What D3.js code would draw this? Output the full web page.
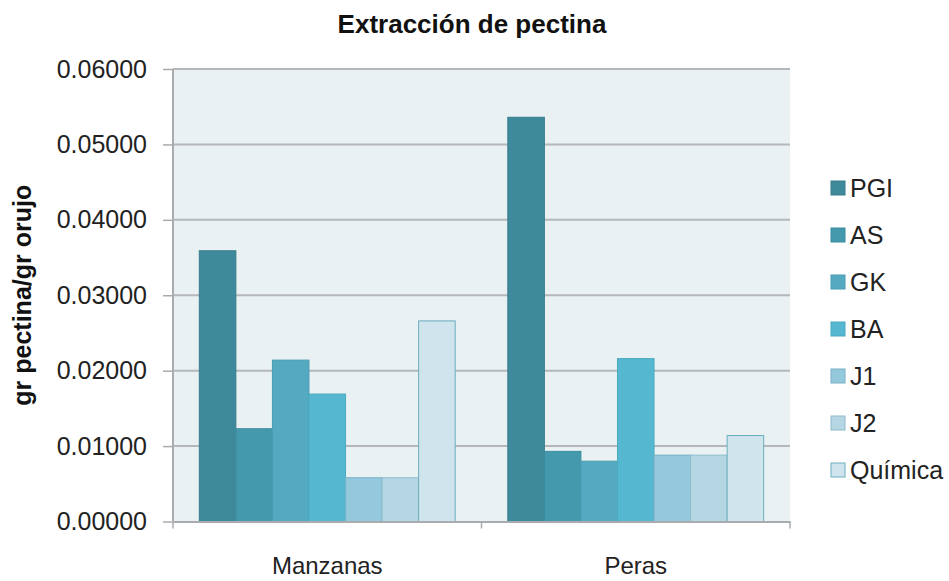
<!DOCTYPE html>
<html>
<script src="https://d3js.org/d3.v7.min.js"></script>

<head>
    <style>
        body {
            margin: 0;
            background-color: #ffffff;
            font-family: "Liberation Sans", Arial, Helvetica, sans-serif;
        }

        svg {
            display: block;
        }
    </style>
</head>

<body>
</body>
<script>
    const width = 949,
        height = 581;

    // data
    const categories = ["Manzanas", "Peras"];
    const series = ["PGI", "AS", "GK", "BA", "J1", "J2", "Química"];
    const manzanas = [0.0359, 0.0123, 0.0214, 0.0169, 0.0058, 0.0058, 0.0266];
    const peras = [0.0536, 0.0093, 0.0080, 0.0216, 0.0088, 0.0088, 0.0114];
    const yTicks = [0, 0.01, 0.02, 0.03, 0.04, 0.05, 0.06];

    const fills = ["#3e8a9b", "#4499ad", "#55aac2", "#56b8d0", "#94c8dc", "#b7d6e3", "#cfe4ec"];
    const strokes = ["#367d8d", "#3b8c9e", "#4a9cb2", "#4aa9c0", "#78b2c6", "#8fbccd", "#6aaebf"];

    const margin = { top: 69, right: 159, bottom: 59, left: 173 };
    const svg = d3.select("body").append("svg").attr("width", width).attr("height", height);

    const rows = categories.map((c, i) => ({
        category: c,
        values: series.map((s, j) => ({ key: s, value: [manzanas, peras][i][j], idx: j }))
    }));

    const x0 = d3.scaleBand()
        .domain(categories)
        .range([margin.left, width - margin.right])
        .padding(0);
    const x1 = d3.scaleBand()
        .domain(series)
        .range([0, x0.bandwidth()])
        .paddingInner(0)
        .paddingOuter(0.72);
    const y = d3.scaleLinear()
        .domain([0, 0.06])
        .range([height - margin.bottom - 0.5, margin.top]);

    // plot background
    svg.append("rect")
        .attr("x", margin.left)
        .attr("y", margin.top)
        .attr("width", width - margin.left - margin.right)
        .attr("height", y(0) - margin.top)
        .attr("fill", "#e9f1f2");

    // gridlines + y axis
    const yAxis = svg.append("g")
        .attr("transform", `translate(${margin.left},0)`)
        .call(d3.axisLeft(y)
            .tickValues(yTicks)
            .tickFormat(d3.format(".5f"))
            .tickSize(10)
            .tickPadding(16));
    yAxis.select(".domain").remove();
    yAxis.selectAll(".tick line").attr("stroke", "#a9abae").attr("stroke-width", 1.5);
    yAxis.selectAll(".tick text")
        .attr("font-family", "Liberation Sans, Arial, sans-serif")
        .attr("font-size", 25)
        .attr("fill", "#222");

    svg.append("g")
        .selectAll("line")
        .data(yTicks.filter(d => d > 0))
        .join("line")
        .attr("x1", margin.left)
        .attr("x2", width - margin.right)
        .attr("y1", d => y(d))
        .attr("y2", d => y(d))
        .attr("stroke", "#b5b7bb")
        .attr("stroke-width", 2);

    // bars
    const groups = svg.append("g")
        .selectAll("g")
        .data(rows)
        .join("g")
        .attr("transform", d => `translate(${x0(d.category)},0)`);
    groups.selectAll("rect")
        .data(d => d.values)
        .join("rect")
        .attr("x", d => x1(d.key))
        .attr("y", d => y(d.value))
        .attr("width", x1.bandwidth())
        .attr("height", d => y(0) - y(d.value))
        .attr("fill", d => fills[d.idx])
        .attr("stroke", d => strokes[d.idx])
        .attr("stroke-width", 1);

    // left axis line
    svg.append("line")
        .attr("x1", margin.left)
        .attr("x2", margin.left)
        .attr("y1", margin.top)
        .attr("y2", y(0))
        .attr("stroke", "#a9abae")
        .attr("stroke-width", 2);

    // x axis
    const xAxis = svg.append("g")
        .attr("transform", `translate(0,${y(0)})`)
        .call(d3.axisBottom(x0).tickSize(0).tickPadding(35));
    xAxis.select(".domain").attr("stroke", "#a9abae").attr("stroke-width", 2);
    xAxis.selectAll(".tick text")
        .attr("font-family", "Liberation Sans, Arial, sans-serif")
        .attr("font-size", 24)
        .attr("fill", "#222");
    // category separator ticks
    const bounds = [margin.left, x0("Peras"), width - margin.right];
    svg.append("g")
        .selectAll("line")
        .data(bounds)
        .join("line")
        .attr("x1", d => d)
        .attr("x2", d => d)
        .attr("y1", y(0))
        .attr("y2", y(0) + 7)
        .attr("stroke", "#a9abae")
        .attr("stroke-width", 1.5);

    // title
    svg.append("text")
        .attr("x", 472)
        .attr("y", 33)
        .attr("text-anchor", "middle")
        .attr("font-size", 26)
        .attr("font-weight", "bold")
        .attr("fill", "#111")
        .text("Extracción de pectina");

    // y axis title
    svg.append("text")
        .attr("transform", `translate(31,${(margin.top + y(0)) / 2}) rotate(-90)`)
        .attr("text-anchor", "middle")
        .attr("font-size", 25)
        .attr("font-weight", "bold")
        .attr("fill", "#111")
        .text("gr pectina/gr orujo");

    // legend
    const legend = svg.append("g")
        .selectAll("g")
        .data(series)
        .join("g")
        .attr("transform", (d, i) => `translate(831,${188 + i * 47})`);
    legend.append("rect")
        .attr("x", 0)
        .attr("y", -7)
        .attr("width", 14)
        .attr("height", 14)
        .attr("fill", (d, i) => fills[i])
        .attr("stroke", (d, i) => strokes[i]);
    legend.append("text")
        .attr("x", 19)
        .attr("y", 9)
        .attr("font-size", 25)
        .attr("fill", "#222")
        .text(d => d);
</script>

</html>
